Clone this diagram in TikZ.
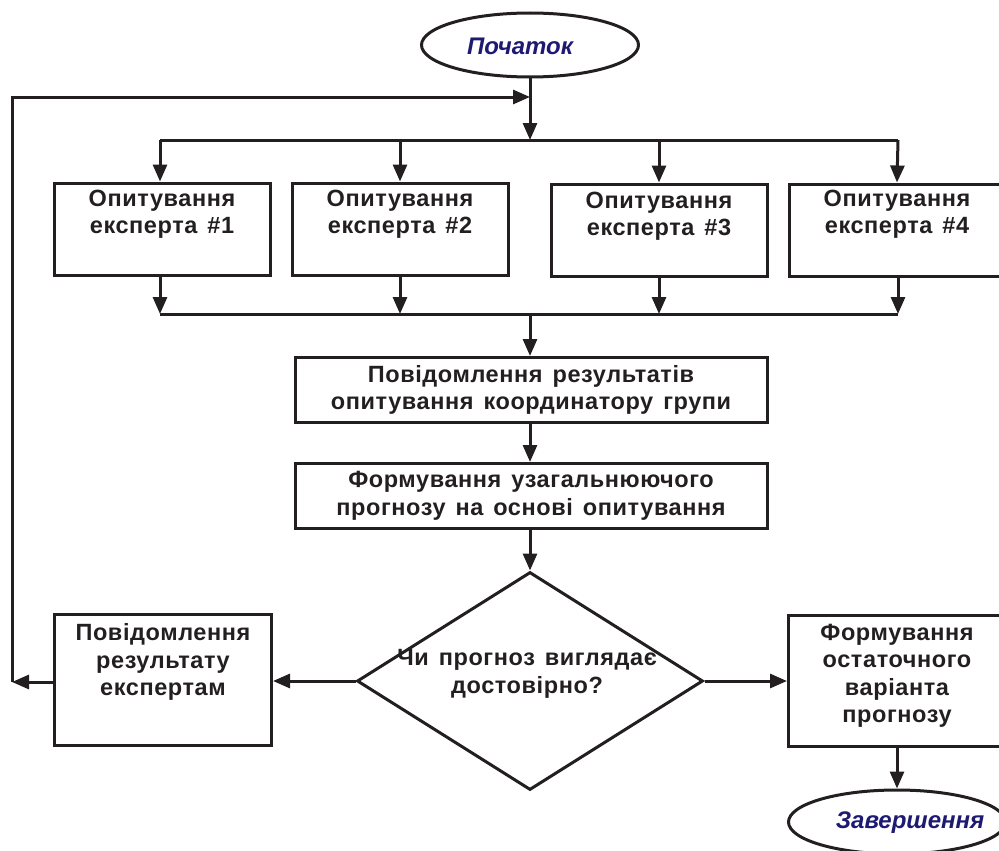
\documentclass[tikz,border=0pt]{standalone}
\usepackage{fontspec}
\setmainfont{Liberation Sans}
\newfontfamily\boxfont[LetterSpace=2.5,WordSpace=1.4]{Liberation Sans}
\usetikzlibrary{arrows.meta,shapes.geometric}
\definecolor{ink}{HTML}{231F20}
\definecolor{navy}{HTML}{1E1A72}
\begin{document}
\begin{tikzpicture}[x=1pt,y=-1pt,
  line width=3pt, draw=ink,
  arr/.style={-{Triangle[length=17pt,width=14pt]}},
  box/.style={draw=ink,line width=3pt,rectangle,inner sep=0pt},
  txt/.style={font=\boxfont\fontsize{23.5}{27.5}\selectfont\bfseries,text=ink,align=center,inner sep=0pt},
  term/.style={draw=ink,line width=3pt,ellipse,minimum width=217pt,minimum height=64pt,inner sep=0pt},
  termtxt/.style={font=\fontsize{24}{28}\selectfont\bfseries\itshape,text=navy,inner sep=0pt}]
\useasboundingbox (0,0) rectangle (999,851);
\begin{scope}
\clip (0,0) rectangle (999,851);
% terminals
\node[term] (start) at (530,45) {};
\node[termtxt] (startT) at (520,46) {Початок};
\node[term] (end) at (897,822) {};
\node[termtxt] (endT) at (910,823) {Завершення};
% expert boxes
\node[box,minimum width=216pt,minimum height=92pt] (e1) at (162,229) {};
\node[box,minimum width=216pt,minimum height=92pt] (e2) at (400,229) {};
\node[box,minimum width=216pt,minimum height=92pt] (e3) at (659,230) {};
\node[box,minimum width=216pt,minimum height=92pt] (e4) at (897,230) {};
\node[txt] (t1) at (162,214) {Опитування\\експерта \#1};
\node[txt] (t2) at (400,214) {Опитування\\експерта \#2};
\node[txt] (t3) at (659,216) {Опитування\\експерта \#3};
\node[txt] (t4) at (897,214) {Опитування\\експерта \#4};
% middle boxes
\node[box,minimum width=472pt,minimum height=65pt] (r) at (531,390) {};
\node[txt] (tr) at (531,390) {Повідомлення результатів\\опитування координатору групи};
\node[box,minimum width=472pt,minimum height=65pt] (f) at (531,496) {};
\node[txt] (tf) at (531,496) {Формування узагальнюючого\\прогнозу на основі опитування};
% diamond
\node[draw=ink,line width=3pt,diamond,minimum width=346pt,minimum height=218pt,inner sep=0pt] (d) at (530,681) {};
\node[txt] (td) at (527,674) {Чи прогноз виглядає\\достовірно?};
% bottom boxes
\node[box,minimum width=217pt,minimum height=131pt] (l) at (163,680) {};
\node[txt] (tl) at (163,662) {Повідомлення\\результату\\експертам};
\node[box,minimum width=217pt,minimum height=131pt] (fin) at (897,681) {};
\node[txt] (tfin) at (897,676) {Формування\\остаточного\\варіанта\\прогнозу};
% coordinates
\coordinate (split) at (530,140);
\coordinate (sL) at (160,140);
\coordinate (sR) at (898,140);
\coordinate (join) at (530,314);
\coordinate (jL) at (160,314);
\coordinate (jR) at (898,314);
\coordinate (fbB) at (12,682);
\coordinate (fbT) at (12,97);
\coordinate (fbE) at (530,97);
% connectors
\draw[arr] (start.south) -- (split);
\draw (sL) -- (sR);
\draw[arr] (sL) -- (sL |- e1.north);
\draw[arr] (400,140) -- (e2.north);
\draw[arr] (659,140) -- (e3.north);
\draw[arr] (sR) -- (e4.north);
\draw[arr] (e1.south -| jL) -- (jL);
\draw[arr] (e2.south) -- (400,314);
\draw[arr] (e3.south) -- (659,314);
\draw[arr] (e4.south -| jR) -- (jR);
\draw (jL) -- (jR);
\draw[arr] (join) -- (r.north -| join);
\draw[arr] (r.south -| join) -- (f.north -| join);
\draw[arr] (f.south -| d.north) -- (d.north);
\draw[arr] (d.west) -- (l.east |- d.west);
\draw[arr] (d.east) -- (fin.west |- d.east);
\draw[arr] (l.west |- fbB) -- (fbB);
\draw[arr] (fbB) -- (fbT) -- (fbE);
\draw[arr] (fin.south -| end.north) -- (end.north);
\end{scope}
\end{tikzpicture}
\end{document}
